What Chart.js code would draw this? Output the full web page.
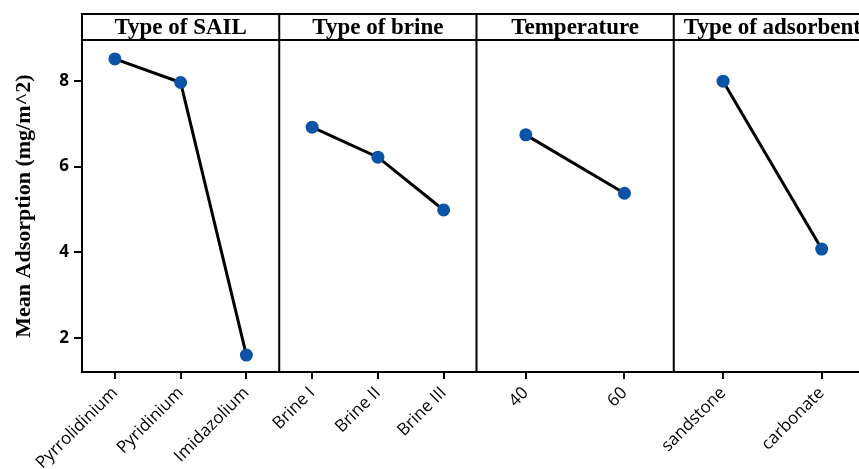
<!DOCTYPE html>
<html>
<head>
<meta charset="utf-8">
<script src="https://cdn.jsdelivr.net/npm/chart.js@4.4.1/dist/chart.umd.min.js"></script>
<style>
  html, body { margin: 0; padding: 0; background: #fff; overflow: hidden; }
  #wrap { position: relative; width: 859px; height: 469px; overflow: hidden; }
</style>
</head>
<body>
<div id="wrap"><canvas id="mainEffects" width="880" height="469"></canvas></div>
<script>
// --- data ---
const factorTitles = ['Type of SAIL', 'Type of brine', 'Temperature', 'Type of adsorbent'];

const sailLevels = ['Pyrrolidinium', 'Pyridinium', 'Imidazolium'];
const sailMeans = [8.51, 7.96, 1.61];

const brineLevels = ['Brine I', 'Brine II', 'Brine III'];
const brineMeans = [6.92, 6.22, 4.99];

const tempLevels = ['40', '60'];
const tempMeans = [6.74, 5.38];

const adsorbentLevels = ['sandstone', 'carbonate'];
const adsorbentMeans = [7.99, 4.08];

const yTicks = [2, 4, 6, 8];

// --- build panel datasets: each factor gets one unit of x range ---
const panels = [
    { levels: sailLevels, means: sailMeans },
    { levels: brineLevels, means: brineMeans },
    { levels: tempLevels, means: tempMeans },
    { levels: adsorbentLevels, means: adsorbentMeans }
];

const tickPositions = [];
const tickLabels = [];
const datasets = panels.map((p, i) => {
    const pts = p.levels.map((lvl, j) => {
        const x = i + (j + 0.5) / p.levels.length;
        tickPositions.push(x);
        tickLabels.push(lvl);
        return { x: x, y: p.means[j] };
    });
    return {
        label: factorTitles[i],
        data: pts,
        borderColor: '#000',
        borderWidth: 3,
        pointRadius: 6.5,
        pointHoverRadius: 6.5,
        pointBackgroundColor: '#0b53a6',
        pointBorderColor: '#0b53a6',
        pointBorderWidth: 0,
        tension: 0,
        clip: false
    };
});

// header strip with factor names + panel dividers
const panelFrame = {
    id: 'panelFrame',
    afterDraw(chart) {
        const { ctx, chartArea } = chart;
        const xs = chart.scales.x;
        const headTop = 14;
        ctx.save();
        ctx.strokeStyle = '#000';
        ctx.lineWidth = 2;
        // header box
        ctx.strokeRect(chartArea.left, headTop, chartArea.right - chartArea.left, chartArea.top - headTop);
        // outer frame right side
        ctx.beginPath();
        ctx.moveTo(chartArea.right, chartArea.top);
        ctx.lineTo(chartArea.right, chartArea.bottom);
        ctx.stroke();
        // dividers
        for (let i = 1; i < panels.length; i++) {
            const px = xs.getPixelForValue(i);
            ctx.beginPath();
            ctx.moveTo(px, headTop);
            ctx.lineTo(px, chartArea.bottom);
            ctx.stroke();
        }
        // titles
        ctx.fillStyle = '#000';
        ctx.font = 'bold 23px "Liberation Serif", "Times New Roman", serif';
        ctx.textAlign = 'center';
        ctx.textBaseline = 'middle';
        factorTitles.forEach((t, i) => {
            const cx = (xs.getPixelForValue(i) + xs.getPixelForValue(i + 1)) / 2;
            ctx.fillText(t, cx, (headTop + chartArea.top) / 2 + 1);
        });
        ctx.restore();
    }
};

new Chart(document.getElementById('mainEffects'), {
    type: 'line',
    data: { datasets: datasets },
    options: {
        responsive: false,
        animation: false,
        events: [],
        layout: { padding: { top: 40, right: 9, left: 0, bottom: 0 } },
        plugins: { legend: { display: false }, tooltip: { enabled: false } },
        scales: {
            x: {
                type: 'linear',
                min: 0,
                max: panels.length,
                afterBuildTicks: (s) => { s.ticks = tickPositions.map(v => ({ value: v })); },
                afterFit: (s) => { s.height = 97; },
                ticks: {
                    autoSkip: false,
                    minRotation: 45,
                    maxRotation: 45,
                    padding: 4,
                    color: '#000',
                    font: { family: '"Open Sans"', size: 17 },
                    callback: (v, i) => tickLabels[i]
                },
                grid: { drawOnChartArea: false, color: '#000', lineWidth: 2, tickLength: 7 },
                border: { color: '#000', width: 2 }
            },
            y: {
                min: 1.215,
                max: 8.95,
                afterBuildTicks: (s) => { s.ticks = yTicks.map(v => ({ value: v })); },
                afterFit: (s) => { s.width = 82; },
                ticks: {
                    padding: 5,
                    color: '#000',
                    font: { family: '"Open Sans"', size: 17, weight: 'bold' }
                },
                grid: { drawOnChartArea: false, color: '#000', lineWidth: 2, tickLength: 8 },
                border: { color: '#000', width: 2 },
                title: {
                    display: true,
                    text: 'Mean Adsorption (mg/m^2)',
                    color: '#000',
                    padding: { top: 11, bottom: 0 },
                    font: { family: '"Liberation Serif"', size: 22, weight: 'bold' }
                }
            }
        }
    },
    plugins: [panelFrame]
});
</script>
</body>
</html>
